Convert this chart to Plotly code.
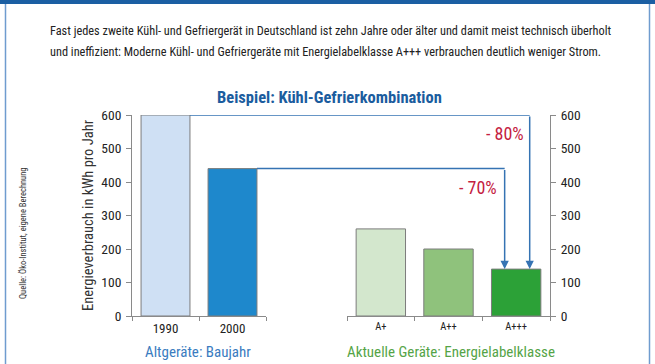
import plotly.graph_objects as go

# ---- data ----
old_years = ["1990", "2000"]
old_values = [600, 440]
new_classes = ["A+", "A++", "A+++"]
new_values = [260, 200, 140]
savings_labels = ["- 80%", "- 70%"]

old_colors = ["#cfe0f4", "#1e88cc"]
new_colors = ["#d3e7cd", "#8fc27c", "#2ca137"]

W, H = 655, 364
ML, MR, MT, MB = 132, 105, 115, 48
PW = W - ML - MR
PH = H - MT - MB

def px(x):
    return (x - ML) / PW

def py(y):
    return (H - MB - y) / PH

FONT = "Roboto Condensed, Liberation Sans Narrow, sans-serif"
BLUE_LINE = "#3573b3"
AXIS_GREY = "#8a8a8a"

dom1 = [0, px(266)]
dom2 = [px(347), 1]
BARGAP = 0.27

fig = go.Figure()
fig.add_trace(go.Bar(x=old_years, y=old_values, xaxis="x", yaxis="y",
                     marker=dict(color=old_colors, line=dict(color="#7c7c7c", width=1)),
                     hoverinfo="skip"))
fig.add_trace(go.Bar(x=new_classes, y=new_values, xaxis="x2", yaxis="y2",
                     marker=dict(color=new_colors, line=dict(color="#7c7c7c", width=1)),
                     hoverinfo="skip"))

def cat_to_paper(dom, n, pos):
    return dom[0] + (pos + 0.5) / n * (dom[1] - dom[0])

half_bar = (1 - BARGAP) / 2
arrow_offsets = [0.2, -0.17]
target = new_values[-1]
shapes = []
annotations = []
for i, (v, off) in enumerate(zip(old_values, arrow_offsets)):
    x_start = cat_to_paper(dom1, len(old_years), i + half_bar)
    x_end = cat_to_paper(dom2, len(new_classes), len(new_classes) - 1 + off)
    shapes.append(dict(type="line", xref="paper", yref="y", x0=x_start, x1=x_end,
                       y0=v, y1=v, line=dict(color=BLUE_LINE, width=1.5)))
    annotations.append(dict(xref="x2", yref="y2", axref="x2", ayref="y2",
                            x=len(new_classes) - 1 + off, y=target,
                            ax=len(new_classes) - 1 + off, ay=v,
                            showarrow=True, arrowhead=2, arrowsize=1.1, arrowwidth=1.5,
                            arrowcolor=BLUE_LINE, standoff=0, text=""))

def label(x, y, text, size, color, xanchor="center", angle=0, bold=False):
    if bold:
        text = "<b>" + text + "</b>"
    annotations.append(dict(xref="paper", yref="paper", x=px(x), y=py(y), xanchor=xanchor,
                            yanchor="middle", text=text, showarrow=False, textangle=angle,
                            font=dict(family=FONT, size=size, color=color)))

# savings labels
label(505, 133, savings_labels[0], 18, "#c4213f")
label(478, 187, savings_labels[1], 18, "#c4213f")
# title
label(329, 97, "Beispiel: Kühl-Gefrierkombination", 16.5, "#1b5c9e", bold=True)
# paragraph
label(48, 31, "Fast jedes zweite Kühl- und Gefriergerät in Deutschland ist zehn Jahre oder älter und damit meist technisch überholt",
      12.3, "#222222", xanchor="left")
label(48, 52, "und ineffizient: Moderne Kühl- und Gefriergeräte mit Energielabelklasse A+++ verbrauchen deutlich weniger Strom.",
      12.3, "#222222", xanchor="left")
# y-axis title
label(88, 215, "Energieverbrauch in kWh pro Jahr", 14.5, "#333333", angle=-90)
# source
label(23, 233, "Quelle: Öko-Institut, eigene Berechnung", 8.5, "#333333", angle=-90)
# group labels
label(198, 352, "Altgeräte: Baujahr", 15, "#3a7cc0")
label(451, 352, "Aktuelle Geräte: Energielabelklasse", 15, "#55a447")

# frame
shapes.append(dict(type="rect", xref="paper", yref="paper", x0=px(0), x1=px(W), y0=py(4), y1=py(0),
                   fillcolor="#1b5fa3", line=dict(width=0), layer="above"))
shapes.append(dict(type="line", xref="paper", yref="paper", x0=px(5.5), x1=px(5.5), y0=py(H), y1=py(4),
                   line=dict(color="#6f9ccf", width=1.5)))
shapes.append(dict(type="line", xref="paper", yref="paper", x0=px(649.5), x1=px(649.5), y0=py(H), y1=py(4),
                   line=dict(color="#6f9ccf", width=1.5)))

tickfont = dict(family=FONT, size=13.5, color="#222222")
fig.update_layout(
    width=W, height=H,
    margin=dict(l=ML, r=MR, t=MT, b=MB, pad=0),
    paper_bgcolor="white", plot_bgcolor="white",
    showlegend=False, bargap=BARGAP,
    xaxis=dict(domain=dom1, type="category", anchor="y", showline=True, linecolor=AXIS_GREY,
               ticks="outside", tickson="boundaries", ticklen=4, tickcolor=AXIS_GREY,
               showgrid=False, tickfont=dict(family=FONT, size=13, color="#222222")),
    xaxis2=dict(domain=dom2, type="category", anchor="y2", showline=True, linecolor=AXIS_GREY,
                ticks="outside", tickson="boundaries", ticklen=4, tickcolor=AXIS_GREY,
                showgrid=False, tickfont=dict(family=FONT, size=10.5, color="#222222")),
    yaxis=dict(range=[0, 600], dtick=100, anchor="x", showline=True, linecolor=AXIS_GREY,
               ticks="outside", ticklen=5, tickcolor=AXIS_GREY, showgrid=False, zeroline=False,
               tickfont=tickfont, ticklabelstandoff=2),
    yaxis2=dict(range=[0, 600], dtick=100, anchor="x2", overlaying="y", side="right",
                showline=True, linecolor=AXIS_GREY, ticks="outside", ticklen=5, tickcolor=AXIS_GREY,
                showgrid=False, zeroline=False, tickfont=tickfont, ticklabelstandoff=2),
    shapes=shapes, annotations=annotations,
)

fig.write_html("out.html", config={"displayModeBar": False},
               post_script="document.body.style.margin='0';")
